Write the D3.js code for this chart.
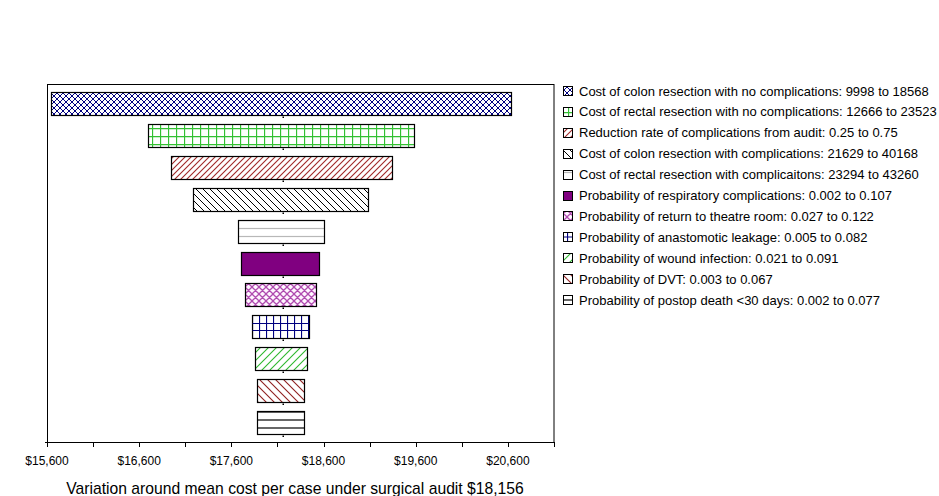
<!DOCTYPE html>
<html><head><meta charset="utf-8">
<script src="https://cdn.jsdelivr.net/npm/d3@7"></script>
<style>body{margin:0;background:#fff;}svg{display:block;font-family:"Liberation Sans",Arial,sans-serif;}</style>
</head><body>
<svg id="chart" width="939" height="496"></svg>
<script>
const categories = [
  "Cost of colon resection with no complications: 9998 to 18568",
  "Cost of rectal resection with no complications: 12666 to 23523",
  "Reduction rate of complications from audit: 0.25 to 0.75",
  "Cost of colon resection with complications: 21629 to 40168",
  "Cost of rectal resection with complicaitons: 23294 to 43260",
  "Probability of respiratory complications: 0.002 to 0.107",
  "Probability of return to theatre room: 0.027 to 0.122",
  "Probability of anastomotic leakage: 0.005 to 0.082",
  "Probability of wound infection: 0.021 to 0.091",
  "Probability of DVT: 0.003 to 0.067",
  "Probability of postop death <30 days: 0.002 to 0.077"
];
const lowValues  = [15643, 16701, 16944, 17186, 17677, 17709, 17753, 17828, 17861, 17883, 17883];
const highValues = [20636, 19584, 19346, 19086, 18609, 18555, 18522, 18446, 18425, 18392, 18392];
const baseline = 18156;
const tickValues = [15600, 16600, 17600, 18600, 19600, 20600];
const minorTicks = [16100, 17100, 18100, 19100, 20100, 21100];
const xTitle = "Variation around mean cost per case under surgical audit $18,156";

const svg = d3.select("#chart");
const L = 47, R = 554, T = 84, B = 442;
const x = d3.scaleLinear().domain([15600, 21100]).range([L, R]);
const y = d3.scaleBand().domain(categories).range([T, B]).paddingInner(0.28).paddingOuter(0.25);

const defs = svg.append("defs");
function pat(id, size, draw, bg) {
  const p = defs.append("pattern").attr("id", id).attr("patternUnits", "userSpaceOnUse")
    .attr("width", size).attr("height", size);
  p.append("rect").attr("width", size).attr("height", size).attr("fill", bg || "#fff");
  draw(p, size);
}
const fwd = s => `M-1,${s+1}L${s+1},-1M-1,1L1,-1M${s-1},${s+1}L${s+1},${s-1}`;
const back = s => `M-1,-1L${s+1},${s+1}M${s-1},-1L${s+1},1M-1,${s-1}L1,${s+1}`;
// 0 navy diagonal cross
pat("p0", 6, (p, s) => {
  p.append("path").attr("d", fwd(s) + back(s)).attr("stroke", "#000080").attr("stroke-width", 1);
});
// 1 green grid
pat("p1", 8, (p, s) => {
  p.append("path").attr("d", `M0.5,0V${s}M0,0.5H${s}`).attr("stroke", "#33c033").attr("stroke-width", 1.3);
});
// 2 brown forward diagonal
pat("p2", 6, (p, s) => {
  p.append("path").attr("d", fwd(s)).attr("stroke", "#a02828").attr("stroke-width", 1.1);
});
// 3 black back diagonal
pat("p3", 7, (p, s) => {
  p.append("path").attr("d", back(s)).attr("stroke", "#000").attr("stroke-width", 1);
});
// 4 gray horizontal lines
pat("p4", 8, (p, s) => {
  p.append("path").attr("d", `M0,${s/2+0.5}H${s}`).attr("stroke", "#b8b8b8").attr("stroke-width", 1.2);
});
// 6 magenta diagonal cross
pat("p6", 7, (p, s) => {
  p.append("path").attr("d", fwd(s) + back(s)).attr("stroke", "#b04cb0").attr("stroke-width", 1.3);
}, "#fff6ff");
// 7 navy grid
pat("p7", 7, (p, s) => {
  p.append("path").attr("d", `M0.5,0V${s}`).attr("stroke", "#000080").attr("stroke-width", 1.2);
});
// 8 green forward diagonal
pat("p8", 8, (p, s) => {
  p.append("path").attr("d", fwd(s)).attr("stroke", "#2eb82e").attr("stroke-width", 1.1);
});
// 9 dark red back diagonal
pat("p9", 8, (p, s) => {
  p.append("path").attr("d", back(s)).attr("stroke", "#902020").attr("stroke-width", 1.1);
});
// 10 black horizontal lines
pat("p10", 8, (p, s) => {
  p.append("path").attr("d", `M0,${s/2}H${s}`).attr("stroke", "#000").attr("stroke-width", 1.2);
});
const fills = ["url(#p0)", "url(#p1)", "url(#p2)", "url(#p3)", "url(#p4)", "#800080", "url(#p6)", "url(#p7)", "url(#p8)", "url(#p9)", "url(#p10)"];

// frame
svg.append("rect").attr("x", L + 0.5).attr("y", T + 0.5).attr("width", R - L - 0.5).attr("height", B - T)
  .attr("fill", "#fff").attr("stroke", "#000").attr("stroke-width", 1);

// bars
const g = svg.append("g");
categories.forEach((c, i) => {
  const x0 = x(lowValues[i]), x1 = x(highValues[i]);
  const yy = Math.round(y(c)) + 0.5, h = Math.round(y.bandwidth());
  g.append("rect").attr("x", Math.round(x0) + 0.5).attr("y", yy).attr("width", Math.round(x1 - x0)).attr("height", h)
    .attr("fill", fills[i]).attr("stroke", "#000").attr("stroke-width", 1.2);
  if (i === 7) {
    [h / 3, 2 * h / 3].forEach(o => g.append("line").attr("x1", Math.round(x0) + 0.5).attr("x2", Math.round(x0) + 0.5 + Math.round(x1 - x0))
      .attr("y1", yy + Math.round(o)).attr("y2", yy + Math.round(o)).attr("stroke", "#000080").attr("stroke-width", 1.2));
  }
  g.append("rect").attr("x", Math.round(x(baseline)) - 0.5).attr("y", yy + h + 1).attr("width", 1.5).attr("height", 1.5).attr("fill", "#000");
});

// axis
const ax = svg.append("g").attr("transform", `translate(0,${B})`);
ax.append("line").attr("x1", L - 2).attr("x2", R + 1).attr("y1", 0.5).attr("y2", 0.5).attr("stroke", "#000");
const allTicks = tickValues.concat(minorTicks);
ax.selectAll("line.t").data(allTicks).join("line").attr("class", "t")
  .attr("x1", d => Math.round(x(d)) + 0.5).attr("x2", d => Math.round(x(d)) + 0.5).attr("y1", 0).attr("y2", 5).attr("stroke", "#000");
ax.selectAll("text").data(tickValues).join("text")
  .attr("x", d => x(d)).attr("y", 23).attr("text-anchor", "middle").attr("font-size", 12).attr("fill", "#000")
  .text(d => "$" + d3.format(",")(d));

svg.append("text").attr("x", 295).attr("y", 494).attr("text-anchor", "middle").attr("font-size", 15.7).attr("fill", "#000").text(xTitle);

// legend
const lg = svg.append("g");
categories.forEach((c, i) => {
  const cy = 91 + i * 20.9;
  lg.append("rect").attr("x", 563.5).attr("y", Math.round(cy - 5) + 0.5).attr("width", 9).attr("height", 9)
    .attr("fill", fills[i]).attr("stroke", "#000").attr("stroke-width", 1);
  if (i === 7) lg.append("line").attr("x1", 564).attr("x2", 572).attr("y1", Math.round(cy)).attr("y2", Math.round(cy)).attr("stroke", "#000080");
  lg.append("text").attr("x", 579).attr("y", cy + 4.5).attr("font-size", 13).attr("fill", "#000").text(c);
});
</script>
</body></html>
